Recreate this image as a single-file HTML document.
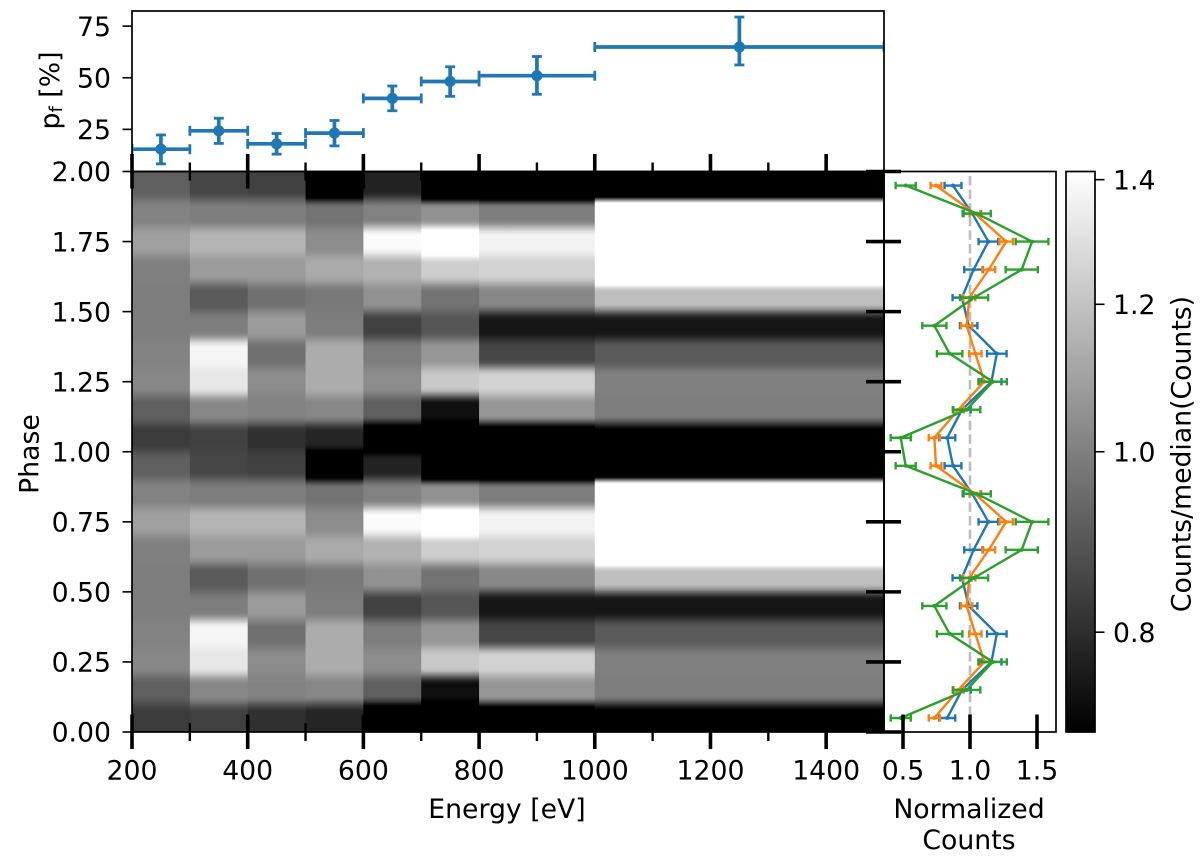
<!DOCTYPE html>
<html>
<head>
<meta charset="utf-8">
<title>Energy-phase map</title>
<style>
html,body{margin:0;padding:0;background:#fff;width:1200px;height:856px;overflow:hidden}
svg{display:block}
text{font-family:"DejaVu Sans","Liberation Sans",sans-serif;font-size:26.7px;fill:#000}
</style>
</head>
<body>
<svg id="chart" xmlns="http://www.w3.org/2000/svg" width="1200" height="856" viewBox="0 0 1200 856"></svg>
<script>
// ---- data ----
const energyEdges = [200, 300, 400, 500, 600, 700, 800, 1000, 1500];
const energyTicks = [200, 400, 600, 800, 1000, 1200, 1400];
const energyMinorTicks = [300, 500, 700, 900, 1100, 1300];
const phaseTicks = [0, 0.25, 0.5, 0.75, 1, 1.25, 1.5, 1.75, 2];
const phaseTickLabels = ['0.00', '0.25', '0.50', '0.75', '1.00', '1.25', '1.50', '1.75', '2.00'];
const pfTicks = [25, 50, 75];
const normTicks = [0.5, 1.0, 1.5];
const normTickLabels = ['0.5', '1.0', '1.5'];
const colorbarTicks = [0.8, 1.0, 1.2, 1.4];
const colorbarTickLabels = ['0.8', '1.0', '1.2', '1.4'];

const pfValues = [15.4, 24.3, 18, 23.2, 40, 48.2, 51, 64.9];
const pfLower = [8.3, 18.2, 13, 17, 34, 41, 42, 56.2];
const pfUpper = [22.3, 30.4, 23, 29.3, 46, 55.3, 60.3, 79.4];

// phase bins 0.05 ... 0.95, repeated for the second cycle
const phaseBins = [0.05, 0.15, 0.25, 0.35, 0.45, 0.55, 0.65, 0.75, 0.85, 0.95];
const blueValues = [0.83, 0.94, 1.16, 1.2, 0.99, 0.94, 1.027, 1.137, 1.017, 0.873];
const blueErrors = [0.06, 0.065, 0.075, 0.073, 0.065, 0.07, 0.07, 0.073, 0.065, 0.063];
const orangeValues = [0.734, 0.913, 1.107, 1.04, 0.975, 0.995, 1.14, 1.27, 1.037, 0.746];
const orangeErrors = [0.042, 0.042, 0.045, 0.046, 0.042, 0.045, 0.048, 0.05, 0.04, 0.04];
const greenValues = [0.483, 0.975, 1.17, 0.848, 0.734, 1.03, 1.386, 1.463, 1.05, 0.52];
const greenErrors = [0.075, 0.102, 0.105, 0.095, 0.09, 0.105, 0.12, 0.122, 0.105, 0.075];

// heatmap columns: counts/median per phase bin
const counts250 = [0.832, 0.916, 1.020, 1.007, 0.993, 0.993, 1.001, 1.092, 1.007, 0.916];
const counts350 = [0.844, 1.020, 1.321, 1.378, 0.993, 0.903, 1.078, 1.153, 0.993, 0.855];
const counts450 = [0.806, 1.007, 1.034, 0.959, 1.078, 0.959, 1.078, 1.153, 0.993, 0.844];
const counts550 = [0.781, 1.020, 1.128, 1.128, 0.993, 0.980, 1.122, 1.034, 0.967, 0.6];
const counts650 = [0.62, 0.916, 1.034, 0.993, 0.844, 1.049, 1.147, 1.399, 1.007, 0.776];
const counts750 = [0.62, 0.736, 1.218, 1.063, 0.891, 0.967, 1.234, 1.6, 1.049, 0.5];
const counts900 = [0.62, 1.063, 1.251, 0.855, 0.751, 1.020, 1.251, 1.370, 0.993, 0.5];
const counts1250 = [0.69, 0.993, 1.001, 0.903, 0.751, 1.185, 1.9, 1.9, 1.9, 0.48];
const heatColumns = [counts250, counts350, counts450, counts550, counts650, counts750, counts900, counts1250];

// ---- layout ----
const L = 132, R = 884, TT = 11, MT = 171.5, MB = 732, PR = 1056, CL = 1066, CR = 1095;
const xE = e => L + (e - 200) * (R - L) / 1300;
const yP = p => MB - p * (MB - MT) / 2;
const yPf = v => 181.0 - v * 2.065;
const xN = n => 970 + (n - 1) * 134;
const VMIN = 0.7071, VMAX = 1.4142;
const norm = v => Math.log(v / VMIN) / Math.log(VMAX / VMIN);
const yCb = v => MB - norm(v) * (MB - MT);
const BLUE = '#1f77b4', ORANGE = '#ff7f0e', GREEN = '#2ca02c';

const NS = 'http://www.w3.org/2000/svg';
const svg = document.getElementById('chart');
function add(parent, tag, attrs, txt) {
  const el = document.createElementNS(NS, tag);
  for (const k in attrs) el.setAttribute(k, attrs[k]);
  if (txt !== undefined) el.textContent = txt;
  parent.appendChild(el);
  return el;
}
function group(name) {
  const g = add(svg, 'g', {});
  
  
  return g;
}
function line(parent, name, x1, y1, x2, y2, color, w, extra) {
  const el = add(parent, 'line', Object.assign({x1, y1, x2, y2, stroke: color, 'stroke-width': w}, extra || {}));
  
  
  return el;
}
function label(parent, name, x, y, str, anchor, extra) {
  const el = add(parent, 'text', Object.assign({x, y, 'text-anchor': anchor}, extra || {}), str);
  
  
  return el;
}
const defs = add(svg, 'defs', {});
const clipTop = add(defs, 'clipPath', {id: 'clip-top'});
add(clipTop, 'rect', {x: L, y: TT, width: R - L, height: MT - TT});
function grayOf(v) {
  const g = Math.round(255 * Math.min(1, Math.max(0, norm(v))));
  return 'rgb(' + g + ',' + g + ',' + g + ')';
}

// ---- heatmap ----
const rows = phaseBins.length * 2;
function valueAt(col, phase) {
  const u = (phase - phaseBins[0]) / 0.1;
  const n = phaseBins.length;
  const cell = k => Math.log(col[Math.max(0, Math.min(rows - 1, k)) % n]);
  if (u <= 0) return Math.exp(cell(0));
  if (u >= rows - 1) return Math.exp(cell(rows - 1));
  const k = Math.floor(u), f = u - k;
  let t = Math.max(0, Math.min(1, (f - 0.5) / 0.6 + 0.5));
  t = t * t * (3 - 2 * t);
  return Math.exp(cell(k) * (1 - t) + cell(k + 1) * t);
}
const heatGroup = group('phase-energy-heatmap');
heatColumns.forEach((col, i) => {
  const id = 'heat-grad-' + i;
  const grad = add(defs, 'linearGradient', {id, gradientUnits: 'userSpaceOnUse', x1: 0, x2: 0, y1: MT, y2: MB});
  for (let y = MT; y <= MB + 0.01; y += 1.5) {
    const phase = (MB - y) / (MB - MT) * 2;
    add(grad, 'stop', {offset: ((y - MT) / (MB - MT)).toFixed(4), 'stop-color': grayOf(valueAt(col, phase))});
  }
  const r = add(heatGroup, 'rect', {x: xE(energyEdges[i]), y: MT, width: xE(energyEdges[i + 1]) - xE(energyEdges[i]) + (i < 7 ? 0.4 : 0), height: MB - MT, fill: 'url(#' + id + ')'});
  
  
});

// ---- top panel ----
const topGroup = group('polarized-fraction-panel');
const topMarks = add(topGroup, 'g', {'clip-path': 'url(#clip-top)'});


pfValues.forEach((v, i) => {
  const x0 = xE(energyEdges[i]), x1 = xE(energyEdges[i + 1]), xc = (x0 + x1) / 2, y = yPf(v);
  line(topMarks, 'pf-x-error', x0, y, x1, y, BLUE, 3.7);
  line(topMarks, 'pf-x-cap-left', x0, y - 5, x0, y + 5, BLUE, 2.8);
  line(topMarks, 'pf-x-cap-right', x1, y - 5, x1, y + 5, BLUE, 2.8);
  line(topMarks, 'pf-y-error', xc, yPf(pfLower[i]), xc, yPf(pfUpper[i]), BLUE, 3.7);
  line(topMarks, 'pf-y-cap-low', xc - 5, yPf(pfLower[i]), xc + 5, yPf(pfLower[i]), BLUE, 2.8);
  line(topMarks, 'pf-y-cap-high', xc - 5, yPf(pfUpper[i]), xc + 5, yPf(pfUpper[i]), BLUE, 2.8);
  const dot = add(topMarks, 'circle', {cx: xc, cy: y, r: 5.6, fill: BLUE});
  
  
});
const topFrame = add(topGroup, 'rect', {x: L, y: TT, width: R - L, height: MT - TT, fill: 'none', stroke: '#000', 'stroke-width': 1.7});


pfTicks.forEach(t => {
  line(topGroup, 'pf-tick', L - 9.5, yPf(t), L, yPf(t), '#000', 1.6);
  label(topGroup, 'pf-tick-label', 111, yPf(t) + 9.7, String(t), 'end');
});
const pfTitle = add(topGroup, 'text', {transform: 'translate(59,90.5) rotate(-90)', 'text-anchor': 'middle'});


add(pfTitle, 'tspan', {}, 'p');
add(pfTitle, 'tspan', {'font-size': '18', dy: '3'}, 'f');
add(pfTitle, 'tspan', {dy: '-3'}, ' [%]');

// ---- right profile panel ----
const profGroup = group('normalized-counts-panel');
const refLine = line(profGroup, 'unity-reference-line', xN(1), 176, xN(1), 727, '#bdbdbd', 2.6, {'stroke-dasharray': '9.5 4.1'});
const allPhases = phaseBins.concat(phaseBins.map(p => p + 1));
function drawSeries(name, values, errors, color) {
  const s = add(profGroup, 'g', {});
  
  
  const pts = allPhases.map((p, i) => xN(values[i % values.length]) + ',' + yP(p)).join(' ');
  const pl = add(s, 'polyline', {points: pts, fill: 'none', stroke: color, 'stroke-width': 2.4, 'stroke-linejoin': 'round'});
  
  
  allPhases.forEach((p, i) => {
    const v = values[i % values.length], e = errors[i % errors.length], y = yP(p);
    line(s, name + '-error-bar', xN(v - e), y, xN(v + e), y, color, 2.4);
    line(s, name + '-cap-low', xN(v - e), y - 3.7, xN(v - e), y + 3.7, color, 2.4);
    line(s, name + '-cap-high', xN(v + e), y - 3.7, xN(v + e), y + 3.7, color, 2.4);
    const d = add(s, 'circle', {cx: xN(v), cy: y, r: 2, fill: color});
    
    
  });
}
drawSeries('blue', blueValues, blueErrors, BLUE);
drawSeries('orange', orangeValues, orangeErrors, ORANGE);
drawSeries('green', greenValues, greenErrors, GREEN);
const profFrame = add(profGroup, 'rect', {x: R, y: MT, width: PR - R, height: MB - MT, fill: 'none', stroke: '#000', 'stroke-width': 1.7});


normTicks.forEach((t, i) => {
  line(profGroup, 'norm-tick', xN(t), MB - 17.5, xN(t), MB + 17, '#000', 3.6);
  label(profGroup, 'norm-tick-label', xN(t), 779.5, normTickLabels[i], 'middle');
});
const normTitle = add(profGroup, 'g', {});


label(normTitle, 'norm-axis-title-line-1', 969, 818, 'Normalized', 'middle');
label(normTitle, 'norm-axis-title-line-2', 969, 849, 'Counts', 'middle');

// ---- main axes ----
const axGroup = group('main-axes');
const mainFrame = add(axGroup, 'rect', {x: L, y: MT, width: R - L, height: MB - MT, fill: 'none', stroke: '#000', 'stroke-width': 1.7});


energyTicks.forEach(t => {
  line(axGroup, 'energy-tick-bottom', xE(t), MB - 17.5, xE(t), MB + 17, '#000', 3.6);
  line(axGroup, 'energy-tick-top', xE(t), MT - 17.5, xE(t), MT + 17, '#000', 3.6);
  label(axGroup, 'energy-tick-label', xE(t), 779.5, String(t), 'middle');
});
energyMinorTicks.forEach(t => {
  line(axGroup, 'energy-minor-tick-bottom', xE(t), MB - 9, xE(t), MB + 9, '#000', 2.4);
  line(axGroup, 'energy-minor-tick-top', xE(t), MT - 9, xE(t), MT + 9, '#000', 2.4);
});
phaseTicks.forEach((t, i) => {
  line(axGroup, 'phase-tick-left', L - 9.5, yP(t), L, yP(t), '#000', 1.6);
  line(axGroup, 'phase-tick-right', R - 18, yP(t), R + 17, yP(t), '#000', 3.6);
  label(axGroup, 'phase-tick-label', 111, yP(t) + 9.7, phaseTickLabels[i], 'end');
});
label(axGroup, 'energy-axis-title', 507, 818, 'Energy [eV]', 'middle');
label(axGroup, 'phase-axis-title', 0, 0, 'Phase', 'middle', {transform: 'translate(38.5,454) rotate(-90)'});

// ---- colorbar ----
const cbGroup = group('colorbar');
const cbGrad = add(defs, 'linearGradient', {id: 'cb-grad', x1: 0, x2: 0, y1: 1, y2: 0});
add(cbGrad, 'stop', {offset: 0, 'stop-color': '#000'});
add(cbGrad, 'stop', {offset: 1, 'stop-color': '#fff'});
const cbRect = add(cbGroup, 'rect', {x: CL, y: MT, width: CR - CL, height: MB - MT, fill: 'url(#cb-grad)', stroke: '#000', 'stroke-width': 1.7});


colorbarTicks.forEach((t, i) => {
  line(cbGroup, 'colorbar-tick', CR, yCb(t), CR + 9.5, yCb(t), '#000', 1.6);
  label(cbGroup, 'colorbar-tick-label', 1113, yCb(t) + 9.7, colorbarTickLabels[i], 'start');
});
label(cbGroup, 'colorbar-title', 0, 0, 'Counts/median(Counts)', 'middle', {transform: 'translate(1190.5,454) rotate(-90)'});
</script>
</body>
</html>
